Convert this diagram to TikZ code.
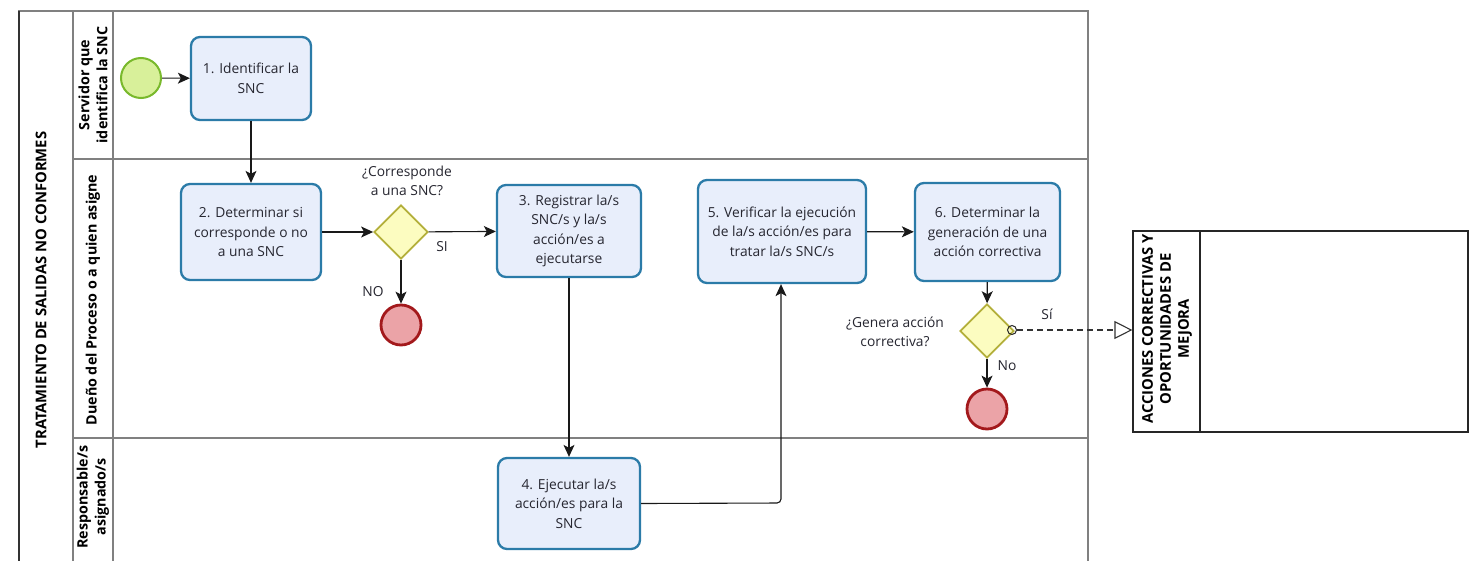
\documentclass[tikz,border=0pt]{standalone}
\usepackage{fontspec}
\setmainfont{Open Sans}
\usetikzlibrary{arrows.meta,shapes.geometric}
\definecolor{taskb}{HTML}{2B7BA8}
\definecolor{taskf}{HTML}{E8EEFB}
\definecolor{gwb}{HTML}{B3AF3A}
\definecolor{gwf}{HTML}{FCFCC0}
\definecolor{stb}{HTML}{79B92C}
\definecolor{stf}{HTML}{D8F09A}
\definecolor{enb}{HTML}{A3191C}
\definecolor{enf}{HTML}{EBA3A7}
\definecolor{lanec}{HTML}{808080}
\definecolor{txt}{HTML}{262630}
\begin{document}
\begin{tikzpicture}[x=1pt,y=-1pt,
  task/.style={draw=taskb, fill=taskf, line width=2.3pt, rounded corners=9pt, inner sep=0pt, align=center, text=txt, font=\fontsize{13.8}{19.5}\selectfont},
  gate/.style={diamond, draw=gwb, fill=gwf, line width=1.8pt, minimum width=54pt, minimum height=54pt, inner sep=0pt},
  startev/.style={circle, draw=stb, fill=stf, line width=2pt, minimum size=40pt, inner sep=0pt},
  endev/.style={circle, draw=enb, fill=enf, line width=2.8pt, minimum size=40pt, inner sep=0pt},
  flow/.style={draw=black!90, line width=1.1pt, -{Stealth[length=12pt,width=11pt,inset=3pt]}},
  lbl/.style={text=txt, font=\fontsize{13.8}{19.5}\selectfont, align=center, inner sep=0pt},
  lanelbl/.style={rotate=90, text=black, font=\bfseries\fontsize{14.3}{18}\selectfont, align=center, inner sep=0pt},
  lane/.style={draw=lanec, line width=1.3pt}
]
\useasboundingbox (0,0) rectangle (1475,560);
\fill[white] (0,0) rectangle (1475,560);
\begin{scope}
\clip (0,0) rectangle (1475,560);
% pool
\draw[lane] (19,11) rectangle (1088,580);
\draw[lane] (73,11) -- (73,580);
\draw[lane] (113,11) -- (113,580);
\draw[lane] (73,159) -- (1088,159);
\draw[lane] (73,438) -- (1088,438);
\draw[black!80, line width=1.3pt] (19,11) -- (19,580);
\end{scope}
\node[lanelbl, font=\bfseries\fontsize{14.8}{18}\selectfont] (pooltitle) at (41,290) {TRATAMIENTO DE SALIDAS NO CONFORMES};
\node[lanelbl] (lane1) at (93,85) {Servidor que\\identifica la SNC};
\node[lanelbl] (lane2) at (93,300) {Dueño del Proceso o a quien asigne};
\node[lanelbl] (lane3) at (93,497) {Responsable/s\\asignado/s};

% external pool
\node[draw=black!85, line width=1.2pt, minimum width=335pt, minimum height=201pt, inner sep=0pt] (acc) at (1300.5,331.5) {};
\draw[black!85, line width=1.2pt] (1200,231) -- (1200,432);
\node[lanelbl, font=\bfseries\fontsize{14.8}{18}\selectfont] (acclbl) at (1167,329) {ACCIONES CORRECTIVAS Y\\OPORTUNIDADES DE\\MEJORA};

% events
\node[startev] (start) at (141,78) {};
\node[endev] (end1) at (401,325) {};
\node[endev] (end2) at (987,409) {};

% tasks
\node[task, minimum width=120pt, minimum height=83pt] (t1) at (251,78.5) {1. Identificar la\\SNC};
\node[task, minimum width=140pt, minimum height=96pt] (t2) at (251,232) {2. Determinar si\\corresponde o no\\a una SNC};
\node[task, minimum width=144pt, minimum height=92pt] (t3) at (569,231) {3. Registrar la/s\\SNC/s y la/s\\acción/es a\\ejecutarse};
\node[task, minimum width=142pt, minimum height=91pt] (t4) at (569,503.5) {4. Ejecutar la/s\\acción/es para la\\SNC};
\node[task, minimum width=168pt, minimum height=103pt] (t5) at (782,231.5) {5. Verificar la ejecución\\de la/s acción/es para\\tratar la/s SNC/s};
\node[task, minimum width=145pt, minimum height=98pt] (t6) at (987.5,232) {6. Determinar la\\generación de una\\acción correctiva};

% gateways
\node[gate] (g1) at (401,232) {};
\node[gate] (g2) at (987,331) {};
\node[lbl] (g1lbl) at (407,181) {¿Corresponde\\a una SNC?};
\node[lbl] (g2lbl) at (895,332) {¿Genera acción\\correctiva?};
\node[lbl] (si) at (442,247) {SI};
\node[lbl] (no) at (373,292) {NO};
\node[lbl] (si2) at (1047,314) {Sí};
\node[lbl] (no2) at (1007,366) {No};

% flows
\draw[flow] (start) -- (t1);
\draw[flow] (t1) -- (t2);
\draw[flow] (t2) -- (g1);
\draw[flow] (g1) -- (t3);
\draw[flow] (g1) -- (end1);
\draw[flow] (t3) -- (t4);
\coordinate (bend) at (781,503);
\draw[flow, rounded corners=4pt] (t4.east) -- (bend) -- (t5.south -| bend);
\draw[flow] (t5) -- (t6);
\draw[flow] (t6) -- (g2);
\draw[flow] (g2) -- (end2);

% message flow
\node[circle, draw=black!85, line width=1pt, minimum size=9pt, inner sep=0pt] (att) at (1012,330) {};
\draw[black!80, line width=1.1pt, dashed, dash pattern=on 6pt off 4pt, -{Triangle[open,length=18pt,width=18pt]}] (att.east) -- (acc.west |- att);
\end{tikzpicture}
\end{document}
